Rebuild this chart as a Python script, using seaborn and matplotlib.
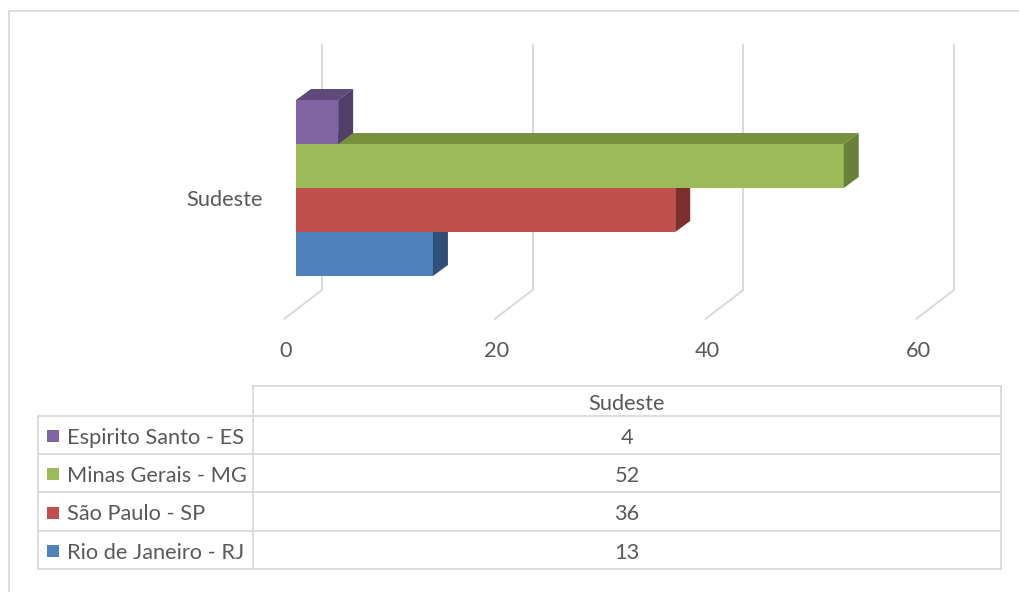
import matplotlib
matplotlib.use("Agg")
import matplotlib.pyplot as plt
import matplotlib.transforms as mtransforms
from matplotlib.patches import Polygon, Rectangle
from matplotlib.lines import Line2D
import numpy as np
import pandas as pd
import seaborn as sns

# ---- data -------------------------------------------------------------
region = "Sudeste"
states = ["Espirito Santo - ES", "Minas Gerais - MG", "São Paulo - SP", "Rio de Janeiro - RJ"]
counts = [4, 52, 36, 13]
x_ticks = [0, 20, 40, 60]

# ---- styling ----------------------------------------------------------
front_colors = ["#8064A2", "#9BBB59", "#C0504D", "#4F81BD"]
top_colors = ["#604A7B", "#77913F", "#953735", "#385D8A"]
side_colors = ["#513F69", "#67803A", "#7E2F2D", "#2F5078"]
TEXT = "#595959"
LINE = "#D9D9D9"
FS = 15.7

W, H = 1020, 592
sns.set_theme(style="white")
plt.rcParams["font.family"] = ["Lato", "DejaVu Sans"]

fig = plt.figure(figsize=(W / 100, H / 100), dpi=100)
fig.patch.set_facecolor("white")


def fx(px):
    return px / W


def fy(py):
    return 1 - py / H


# plot area: value axis 0..60, category band centred on the region
ax = fig.add_axes([fx(296), fy(290), 632 / W, 245 / H])
df = pd.DataFrame({"region": [region] * len(states), "state": states, "count": counts})
sns.barplot(data=df, x="count", y="region", hue="state", hue_order=states,
            palette=front_colors, width=0.8, orient="h", errorbar=None,
            saturation=1, legend=False, ax=ax, linewidth=0)
ax.set_xlim(0, 60)
ax.set_ylim(0.4636, -0.65)
ax.axis("off")

# pixel helpers for the pseudo-3D depth
px_per_x = 632 / 60
px_per_y = 245 / (0.4636 + 0.65)
ddx = 15 / px_per_x
ddy = 11 / px_per_y

n = len(states)
for i, bar in enumerate(ax.patches[:n]):
    z = 3 + (n - i)
    bar.set_zorder(z)
    x0 = bar.get_x()
    v = x0 + bar.get_width()
    y_top = min(bar.get_y(), bar.get_y() + bar.get_height())
    y_bot = max(bar.get_y(), bar.get_y() + bar.get_height())
    top = Polygon([(x0, y_top), (v, y_top), (v + ddx, y_top - ddy), (x0 + ddx, y_top - ddy)],
                  closed=True, facecolor=top_colors[i], edgecolor="none", zorder=z)
    side = Polygon([(v, y_top), (v + ddx, y_top - ddy), (v + ddx, y_bot - ddy), (v, y_bot)],
                   closed=True, facecolor=side_colors[i], edgecolor="none", zorder=z)
    ax.add_patch(top)
    ax.add_patch(side)

# back-wall gridlines and floor diagonals
back = mtransforms.blended_transform_factory(ax.transData, ax.transAxes) + \
    mtransforms.ScaledTranslation(26 / 100, 0, fig.dpi_scale_trans)
for t in x_ticks:
    ax.add_line(Line2D([t, t], [0, 1], transform=back, color=LINE, lw=1.4,
                       clip_on=False, zorder=1))
    # diagonal from the foot of the gridline towards the front edge
    p0 = back.transform((t, 0))
    p1 = (p0[0] - 38, p0[1] - 29)
    fig.add_artist(Line2D([p0[0], p1[0]], [p0[1], p1[1]],
                          transform=mtransforms.IdentityTransform(),
                          color=LINE, lw=1.4, zorder=1))

# value-axis labels on the front edge
label_tf = ax.transData + mtransforms.ScaledTranslation(-10 / 100, 0, fig.dpi_scale_trans)
for t in x_ticks:
    xd = label_tf.transform((t, 0))[0]
    fig.text(xd / W, fy(349), f"{t}", ha="center", va="center_baseline",
             fontsize=FS, color=TEXT)

# category label
fig.text(fx(263), fy(198), region, ha="right", va="center_baseline",
         fontsize=FS, color=TEXT)

# ---- data table -------------------------------------------------------
def hline(x0, x1, y):
    fig.add_artist(Line2D([fx(x0), fx(x1)], [fy(y), fy(y)], color=LINE, lw=1.3))


def vline(x, y0, y1):
    fig.add_artist(Line2D([fx(x), fx(x)], [fy(y0), fy(y1)], color=LINE, lw=1.3))


tbl_left, tbl_mid, tbl_right = 38, 253, 1001
head_top, head_bot = 386, 416
row_edges = [416, 454, 492, 531, 569]

hline(tbl_mid, tbl_right, head_top)
vline(tbl_mid, head_top, row_edges[-1])
vline(tbl_right, head_top, row_edges[-1])
vline(tbl_left, row_edges[0], row_edges[-1])
for y in row_edges:
    hline(tbl_left, tbl_right, y)

col_center = (tbl_mid + tbl_right) / 2
fig.text(fx(col_center), fy((head_top + head_bot) / 2 + 1), region, ha="center",
         va="center_baseline", fontsize=FS, color=TEXT)

for i, (name, val) in enumerate(zip(states, counts)):
    yc = (row_edges[i] + row_edges[i + 1]) / 2 + 1
    fig.add_artist(Rectangle((fx(47), fy(yc + 6)), 12 / W, 12 / H,
                             facecolor=front_colors[i], edgecolor="none"))
    fig.text(fx(67), fy(yc), name, ha="left", va="center_baseline",
             fontsize=FS, color=TEXT)
    fig.text(fx(col_center), fy(yc), f"{val}", ha="center", va="center_baseline",
             fontsize=FS, color=TEXT)

# chart-area border
hline(9, W, 11)
vline(9, 11, H)

fig.savefig("out.png", dpi=100, facecolor="white")
